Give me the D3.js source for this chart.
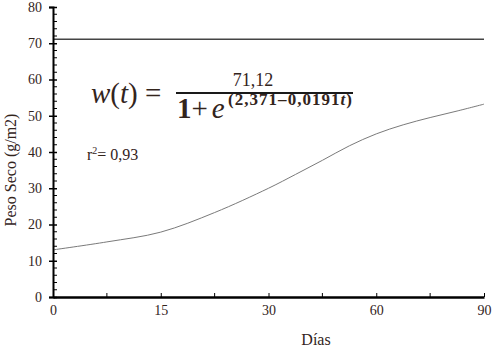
<!DOCTYPE html>
<html>
  <head>
    <meta charset="utf-8" />
    <script src="https://d3js.org/d3.v7.min.js"></script>
    <style>
      body { margin: 0px; background: #fff; }
      svg text { font-family: "Liberation Serif", "Times New Roman", serif !important; fill: #33241c; }
      .tick text { font-size: 14px; }
      .axis-label { font-size: 16px; }
    </style>
  </head>
  <body>
    <svg width="499" height="351"></svg>
    <script>
      // x axis is drawn with equal spacing between the labelled days
      const xTicks = [0, 15, 30, 60, 90];
      const xMinor = [7.5, 22.5, 45, 75];
      const yTicks = [0, 10, 20, 30, 40, 50, 60, 70, 80];
      const yMinor = d3.range(0, 80, 2).filter(v => v % 10 !== 0);

      // fitted curve
      const days = [0, 7.5, 15, 22.5, 30, 37.5, 45, 52.5, 60, 67.5, 75, 82.5, 90];
      const peso = [13.0, 15.2, 17.9, 23.3, 30.0, 33.8, 37.7, 41.7, 45.0, 47.5, 49.5, 51.3, 53.2];
      const asymptote = 71.12;

      const svg = d3.select("svg");
      const x0 = 53, x1 = 484;
      const step = (x1 - x0) / (xTicks.length - 1);
      const xScale = d3.scaleLinear()
        .domain(xTicks)
        .range(xTicks.map((d, i) => x0 + i * step));
      const yScale = d3.scaleLinear().domain([0, 80]).range([297, 7]);

      // asymptote line
      svg.append("line")
        .attr("x1", xScale(0)).attr("x2", xScale(90))
        .attr("y1", yScale(asymptote)).attr("y2", yScale(asymptote))
        .attr("stroke", "#444").attr("stroke-width", 1.5);

      // curve
      const line = d3.line()
        .x((d, i) => xScale(days[i]))
        .y(d => yScale(d))
        .curve(d3.curveCatmullRom);
      svg.append("path")
        .datum(peso)
        .attr("d", line)
        .attr("fill", "none")
        .attr("stroke", "#7a7a7a")
        .attr("stroke-width", 1);

      // y axis
      const yAxisG = svg.append("g").attr("transform", `translate(${x0},0)`);
      yAxisG.call(d3.axisLeft(yScale).tickValues(yTicks).tickSize(4).tickPadding(7).tickFormat(d3.format("d")));
      yAxisG.select(".domain").attr("stroke", "#000").attr("stroke-width", 2);
      yAxisG.selectAll(".tick line").attr("x1", 4).attr("x2", -4).attr("stroke", "#000").attr("stroke-width", 1.5);
      yAxisG.selectAll(".minor")
        .data(yMinor).enter().append("line")
        .attr("x1", 0).attr("x2", 4)
        .attr("y1", d => yScale(d)).attr("y2", d => yScale(d))
        .attr("stroke", "#000").attr("stroke-width", 1);

      // x axis
      const xAxisG = svg.append("g").attr("transform", `translate(0,${yScale(0)})`);
      xAxisG.call(d3.axisBottom(xScale).tickValues(xTicks).tickSize(0).tickPadding(8).tickFormat(d3.format("d")));
      xAxisG.select(".domain").attr("stroke", "#000").attr("stroke-width", 2.5);
      xAxisG.selectAll(".tick line").attr("y2", -4).attr("stroke", "#000");
      xAxisG.selectAll(".minor")
        .data(xMinor).enter().append("line")
        .attr("x1", d => xScale(d)).attr("x2", d => xScale(d))
        .attr("y1", 0).attr("y2", -4)
        .attr("stroke", "#000");

      // axis titles
      svg.append("text")
        .attr("class", "axis-label")
        .attr("x", 316).attr("y", 345)
        .attr("text-anchor", "middle")
        .text("Días");
      svg.append("text")
        .attr("class", "axis-label")
        .attr("transform", "translate(16,170) rotate(-90)")
        .attr("text-anchor", "middle")
        .text("Peso Seco (g/m2)");

      // equation
      const eq = svg.append("g");
      eq.append("text")
        .attr("x", 91).attr("y", 103)
        .style("font-size", "29px")
        .html('<tspan font-style="italic">w</tspan>(<tspan font-style="italic">t</tspan>) =');
      eq.append("line")
        .attr("x1", 176).attr("x2", 353)
        .attr("y1", 93).attr("y2", 93)
        .attr("stroke", "#1a1a1a").attr("stroke-width", 2);
      eq.append("text")
        .attr("x", 253).attr("y", 86)
        .attr("text-anchor", "middle")
        .style("font-size", "18px")
        .text("71,12");
      eq.append("text")
        .attr("x", 177).attr("y", 118)
        .style("font-size", "29px")
        .html('<tspan font-weight="bold">1</tspan>+<tspan dx="4" font-style="italic">e</tspan>');
      eq.append("text")
        .attr("x", 228).attr("y", 105)
        .attr("textLength", 124)
        .style("font-size", "17px")
        .style("font-weight", "600")
        .html('(2,371–0,0191<tspan font-style="italic">t</tspan>)');

      svg.append("text")
        .attr("x", 87).attr("y", 160)
        .style("font-size", "16px")
        .html('r<tspan dy="-6" font-size="10px">2</tspan><tspan dy="6">= 0,93</tspan>');
    </script>
  </body>
</html>
